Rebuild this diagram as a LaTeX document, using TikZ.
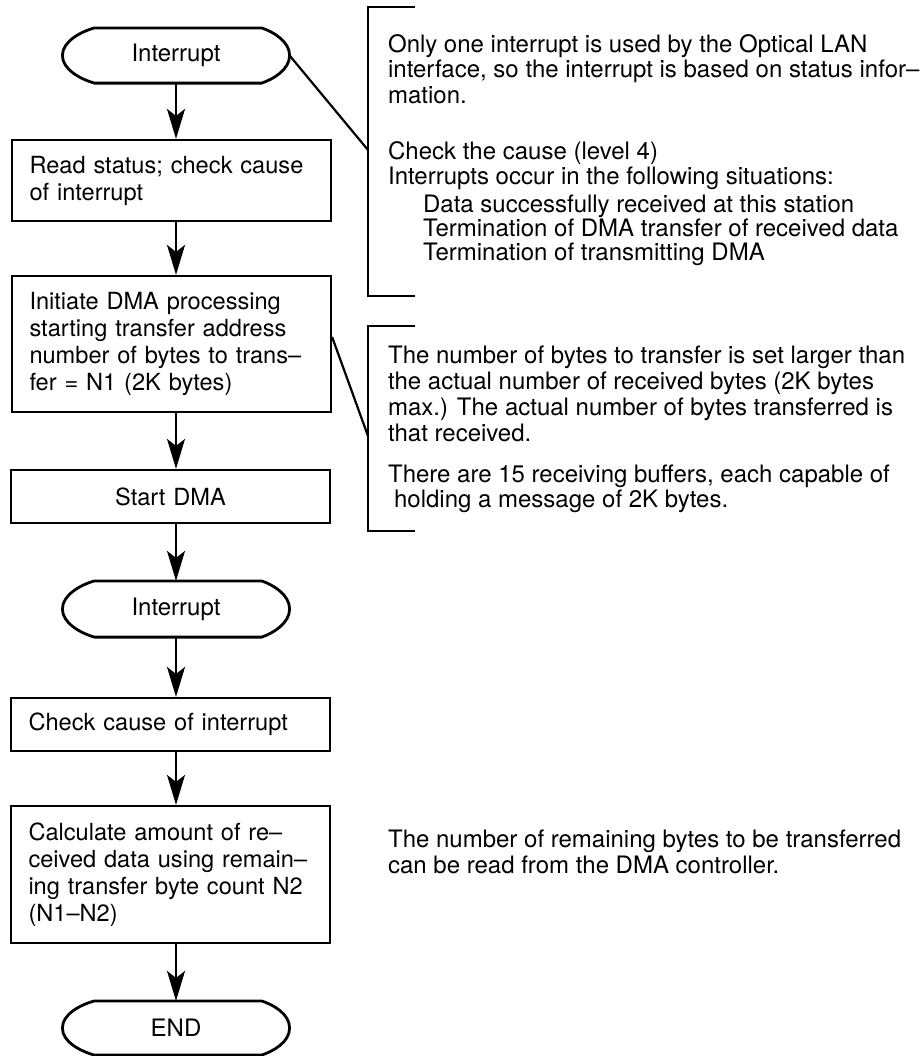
\documentclass[tikz,border=0pt]{standalone}
\usepackage{fontspec}
\setmainfont{TeX Gyre Heros}
\usetikzlibrary{arrows.meta}

% outline of a terminal (start / end) node
\newcommand{\termline}[1]{%
  \draw[line width=1.4pt]
    ([xshift=16pt]#1.north west) -- ([xshift=-14pt]#1.north east)
    .. controls +(6pt,-2pt) and +(0,7pt) .. (#1.east)
    .. controls +(0,-7pt) and +(6pt,2pt) .. ([xshift=-14pt]#1.south east)
    -- ([xshift=16pt]#1.south west)
    .. controls +(-7pt,2pt) and +(0,-7pt) .. (#1.west)
    .. controls +(0,7pt) and +(-7pt,-2pt) .. cycle;}

\tikzset{
  flowbox/.style={draw, line width=1.1pt, minimum width=159.5pt, text width=142pt,
    inner xsep=8.75pt, inner ysep=0pt, align=left,
    font=\fontsize{11.8}{13.5}\selectfont},
  terminal/.style={minimum width=112.5pt, inner sep=0pt,
    font=\fontsize{12}{13.5}\selectfont},
  note/.style={anchor=base west, inner sep=0pt, align=left,
    font=\fontsize{12}{12.75}\selectfont},
}

\begin{document}
\begin{tikzpicture}[x=0.5pt, y=-0.5pt, line width=1.1pt,
    >={Stealth[length=15pt, width=9pt, inset=3.5pt]}]
  \useasboundingbox (0,0) rectangle (924,1056);

  % ================= flow chart =================
  \node[terminal, minimum height=26.5pt] (int1) at (176,55.5) {Interrupt};
  \termline{int1}
  \node[flowbox, minimum height=40.5pt] (box1) at (171.5,180.5)
    {Read status; check cause\\of interrupt};
  \node[flowbox, minimum height=68pt] (box2) at (171.5,344)
    {Initiate DMA processing\\starting transfer address\\number of bytes to trans--\\fer = N1 (2K bytes)};
  \node[flowbox, minimum height=26.5pt, align=center] (box3) at (170.5,496.5) {Start DMA};
  \node[terminal, minimum height=27pt] (int2) at (176,609) {Interrupt};
  \termline{int2}
  \node[flowbox, minimum height=26.5pt] (box4) at (170.5,724.5) {Check cause of interrupt};
  \node[flowbox, minimum height=68.5pt] (box5) at (170.5,874.5)
    {Calculate amount of re--\\ceived data using remain--\\ing transfer byte count N2\\(N1--N2)};
  \node[terminal, minimum height=26pt] (endn) at (176,1028) {END};
  \termline{endn}

  % arrows
  \draw[->] (int1) -- (int1 |- box1.north);
  \draw[->] (box1.south -| int1) -- (box2.north -| int1);
  \draw[->] (box2.south -| int1) -- (box3.north -| int1);
  \draw[->] (box3.south -| int1) -- (int2);
  \draw[->] (int2) -- (int2 |- box4.north);
  \draw[->] (box4.south -| int1) -- (box5.north -| int1);
  \draw[->] (box5.south -| int1) -- (endn);

  % ================= brackets with notes =================
  \draw (415,7) -- (368,7) -- (368,296) -- (415,296);
  \coordinate (brA) at (368,150);
  \draw (int1.east) -- (brA);

  % (base anchor = baseline of the last line)
  \node[note] (noteA) at (387,103)
    {Only one interrupt is used by the Optical LAN\\interface, so the interrupt is based on status infor--\\mation.};
  \node[note, font=\fontsize{12}{11}\selectfont] (noteB) at (387,184)
    {Check the cause (level 4)\\Interrupts occur in the following situations:};
  \node[note, font=\fontsize{12}{12}\selectfont] (noteC) at (422,260)
    {Data successfully received at this station\\Termination of DMA transfer of received data\\Termination of transmitting DMA};

  \draw (415,326) -- (368,326) -- (368,531) -- (415,531);
  \coordinate (brB) at (368,436);
  \draw ([yshift=-31pt]box2.north east) -- (brB);

  \node[note, font=\fontsize{12}{13}\selectfont] (noteD) at (387,441)
    {The number of bytes to transfer is set larger than\\the actual number of received bytes (2K bytes\\max.) The actual number of bytes transferred is\\that received.};
  \node[note, font=\fontsize{12}{12.5}\selectfont] (noteE) at (387,507)
    {There are 15 receiving buffers, each capable of\\\hspace*{3pt}holding a message of 2K bytes.};

  \node[note, font=\fontsize{12}{13}\selectfont] (noteF) at (387,873)
    {The number of remaining bytes to be transferred\\can be read from the DMA controller.};
\end{tikzpicture}
\end{document}
